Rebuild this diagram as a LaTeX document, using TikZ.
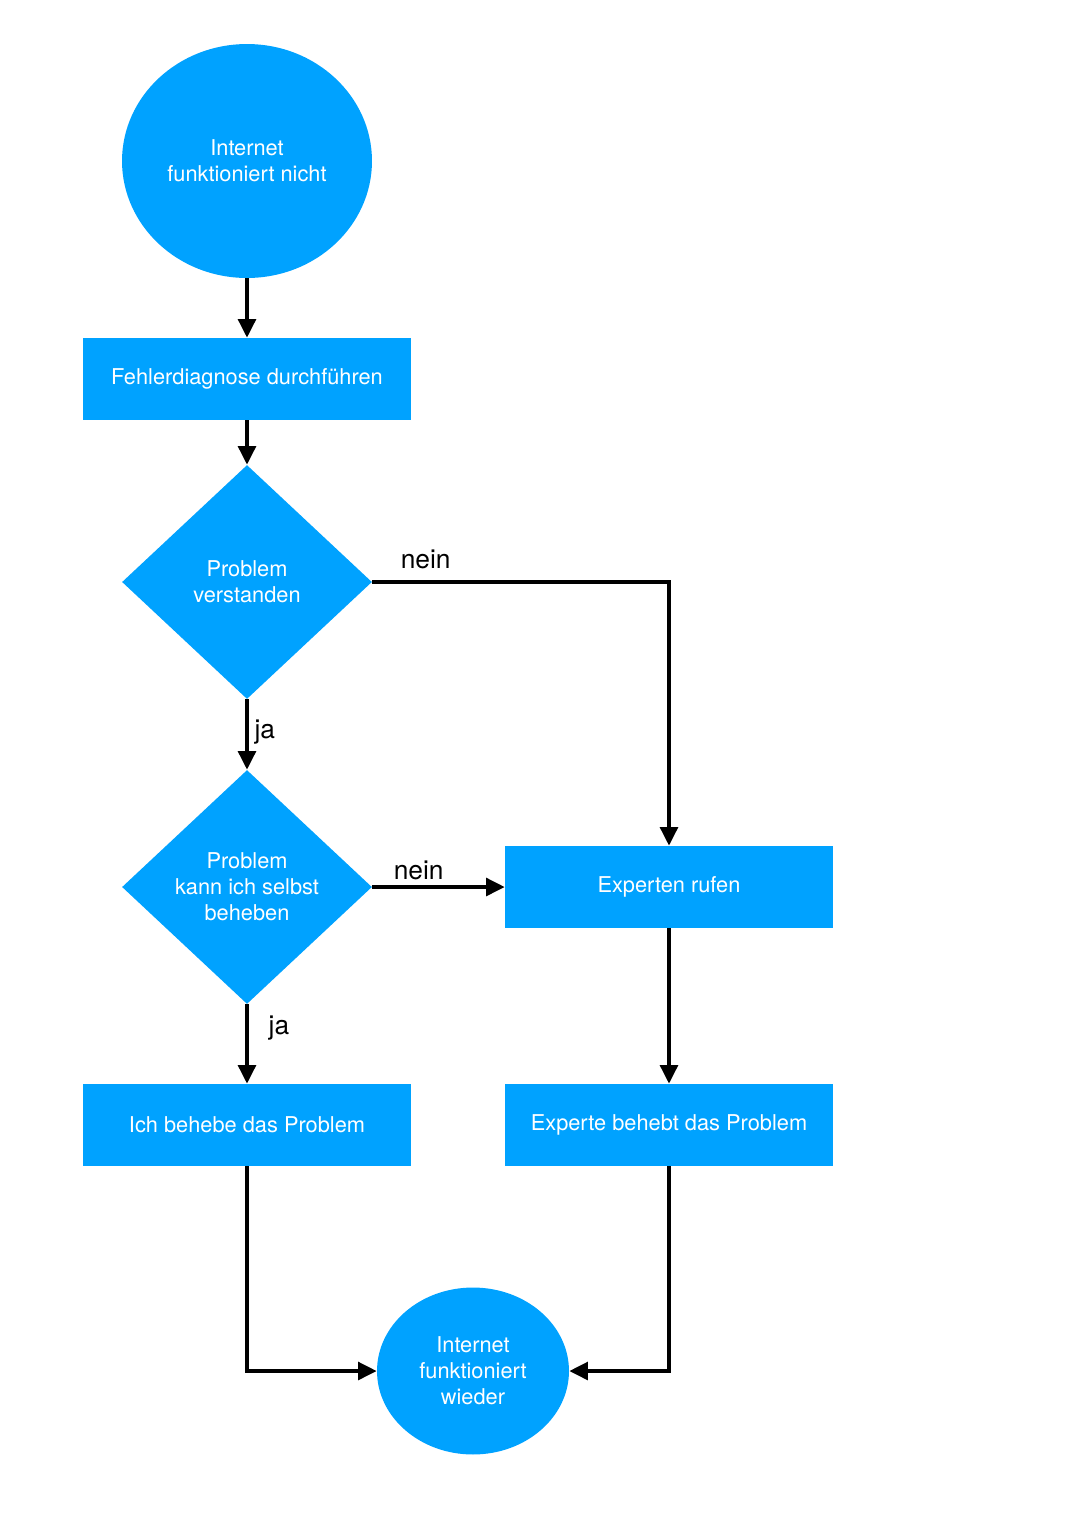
\documentclass[tikz,border=0pt]{standalone}
\usepackage{fontspec}
\setmainfont{TeX Gyre Heros}
\usepackage{tikz}
\usetikzlibrary{shapes.geometric, arrows.meta, positioning}
\definecolor{flowblue}{HTML}{00A2FF}
\newcommand{\boxfont}{\fontsize{12.4}{14.7}\selectfont}
\tikzset{
  startstop/.style={ellipse, fill=flowblue, text=white, align=center, inner sep=0pt, font=\boxfont},
  process/.style={rectangle, fill=flowblue, text=white, inner sep=0pt, minimum width=6.56cm, minimum height=1.64cm, font=\boxfont},
  decision/.style={diamond, fill=flowblue, text=white, align=center, inner sep=0pt, minimum width=5cm, minimum height=4.68cm, font=\boxfont},
  flow/.style={line width=2pt, -{Triangle[width=10pt,length=10.5pt]}},
  lbl/.style={font=\fontsize{15}{18}\selectfont, text=black}
}

\begin{document}
\begin{tikzpicture}[x=0.02cm, y=-0.02cm]
\fill[white] (0,0) rectangle (1086,1536);

\node[startstop, minimum width=5cm, minimum height=4.68cm] (start) at (247,161) {Internet\\funktioniert nicht};
\node[process] (diag) at (247,379) {Fehlerdiagnose durchführen};
\node[decision] (dec1) at (247,582) {Problem\\verstanden};
\node[decision] (dec2) at (247,887) {Problem\\kann ich selbst\\beheben};
\node[process] (experten) at (669,887) {Experten rufen};
\node[process] (selbst) at (247,1125) {Ich behebe das Problem};
\node[process] (efix) at (669,1125) {Experte behebt das Problem};
\node[startstop, minimum width=3.84cm, minimum height=3.34cm] (ende) at (473,1371) {Internet\\funktioniert\\wieder};

\draw[flow] (start) -- (diag);
\draw[flow] (diag) -- (dec1);
\draw[flow] (dec1.east) -| node[lbl, pos=0.09, above, yshift=3pt] (nein1) {nein} (experten.north);
\draw[flow] (dec1) -- node[lbl, pos=0.46, right] (ja1) {ja} (dec2);
\draw[flow] (dec2.east) -- node[lbl, pos=0.35, above] (nein2) {nein} (experten.west);
\draw[flow] (dec2) -- node[lbl, pos=0.3, right, xshift=8pt] (ja2) {ja} (selbst);
\draw[flow] (experten) -- (efix);
\draw[flow] (selbst.south) |- (ende.west);
\draw[flow] (efix.south) |- (ende.east);

\end{tikzpicture}
\end{document}
